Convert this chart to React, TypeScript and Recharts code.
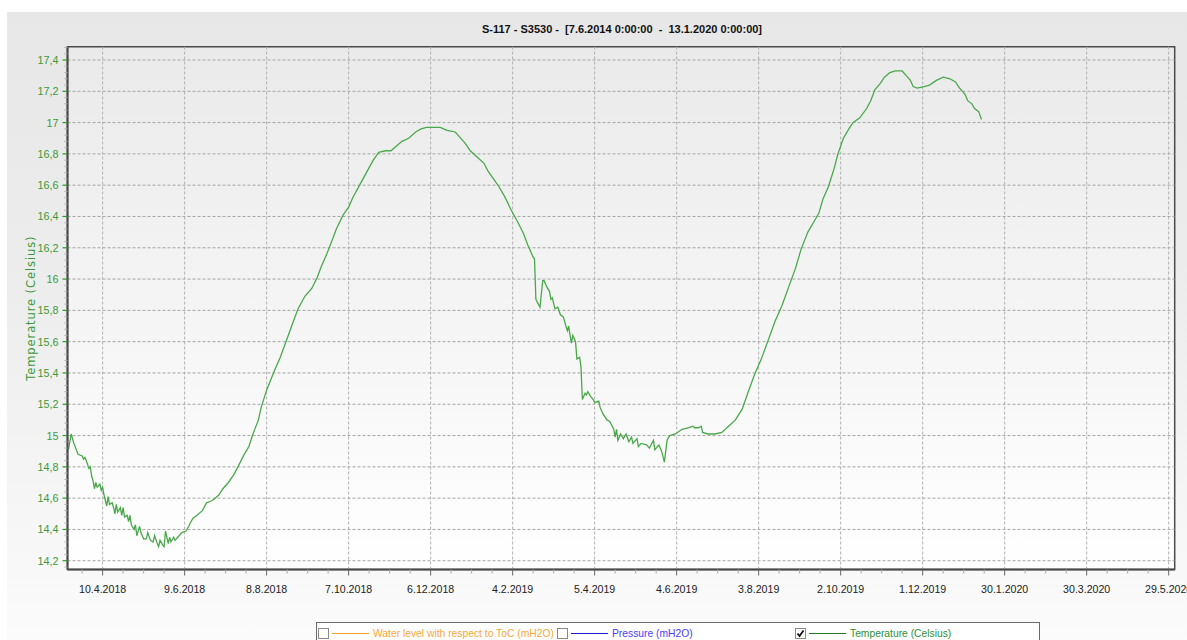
import React from 'react';
import { LineChart, Line, XAxis, YAxis, CartesianGrid, ReferenceLine, ReferenceArea, Label } from 'recharts';

// Days counted from 10.4.2018
const startDate = '2018-04-10';
const dayOffsets = [
  -25, -23, -21, -18, -15, -14, -13, -12, -10, -9, -8, -7, -6, -5, -4, -2, -1, 0, 1, 3, 4, 5, 7, 8, 9, 10, 11, 13, 14, 15, 16, 18, 19, 20, 21, 23, 24, 25, 27, 28, 30, 32, 33, 35, 37, 38, 40, 41, 42, 44, 45, 46, 48, 49, 50, 52, 53, 55, 58, 61, 63, 64, 66, 69, 73, 76, 79, 81, 85, 88, 92, 96, 99, 103, 107, 110, 114, 116, 120, 125, 130, 135, 140, 143, 148, 153, 157, 160, 164, 168, 171, 176, 180, 183, 188, 193, 198, 202, 207, 211, 215, 219, 224, 229, 233, 237, 247, 252, 258, 261, 265, 269, 274, 279, 282, 286, 290, 294, 299, 304, 308, 311, 315, 316, 317, 320, 322, 323, 325, 327, 328, 329, 331, 333, 335, 337, 338, 340, 341, 342, 343, 344, 346, 347, 349, 350, 351, 353, 354, 355, 357, 359, 360, 363, 364, 366, 369, 371, 374, 375, 376, 377, 379, 381, 383, 385, 387, 388, 391, 392, 394, 398, 400, 403, 404, 407, 409, 411, 413, 415, 419, 424, 429, 432, 433, 436, 438, 439, 443, 448, 453, 458, 463, 468, 472, 477, 482, 487, 492, 497, 502, 507, 511, 516, 520, 524, 527, 531, 535, 538, 542, 546, 549, 554, 559, 562, 565, 569, 572, 576, 580, 585, 588, 591, 593, 596, 601, 605, 610, 615, 620, 624, 627, 631, 633, 636, 638, 641, 643,
];
const temperature = [
  14.91, 15.01, 14.95, 14.88, 14.87, 14.85, 14.86, 14.84, 14.79, 14.8, 14.74, 14.71, 14.66, 14.7, 14.67, 14.69, 14.65, 14.67, 14.62, 14.55, 14.61, 14.56, 14.57, 14.54, 14.5, 14.56, 14.51, 14.54, 14.49, 14.54, 14.48, 14.49, 14.45, 14.49, 14.43, 14.4, 14.43, 14.36, 14.42, 14.38, 14.34, 14.34, 14.38, 14.33, 14.32, 14.36, 14.31, 14.29, 14.33, 14.3, 14.29, 14.39, 14.31, 14.35, 14.32, 14.35, 14.33, 14.35, 14.38, 14.39, 14.42, 14.44, 14.47, 14.49, 14.52, 14.57, 14.58, 14.59, 14.62, 14.66, 14.7, 14.75, 14.8, 14.87, 14.93, 15.01, 15.1, 15.18, 15.29, 15.4, 15.5, 15.62, 15.74, 15.81, 15.89, 15.94, 16.01, 16.08, 16.16, 16.25, 16.32, 16.41, 16.46, 16.52, 16.6, 16.68, 16.76, 16.81, 16.82, 16.82, 16.85, 16.88, 16.9, 16.94, 16.96, 16.97, 16.97, 16.95, 16.94, 16.91, 16.87, 16.82, 16.78, 16.74, 16.69, 16.64, 16.59, 16.53, 16.44, 16.36, 16.29, 16.22, 16.14, 16.13, 15.87, 15.82, 15.99, 15.99, 15.95, 15.92, 15.87, 15.88, 15.81, 15.82, 15.77, 15.76, 15.73, 15.67, 15.7, 15.64, 15.59, 15.64, 15.6, 15.49, 15.5, 15.44, 15.23, 15.27, 15.26, 15.28, 15.25, 15.23, 15.21, 15.22, 15.18, 15.14, 15.1, 15.09, 15.04, 14.99, 15.04, 14.97, 15.01, 14.98, 15.01, 14.96, 14.99, 14.95, 14.98, 14.93, 14.95, 14.94, 14.92, 14.97, 14.91, 14.94, 14.9, 14.83, 14.97, 15.0, 15.01, 15.04, 15.05, 15.06, 15.05, 15.05, 15.06, 15.02, 15.01, 15.01, 15.02, 15.06, 15.1, 15.17, 15.27, 15.39, 15.49, 15.61, 15.73, 15.83, 15.95, 16.07, 16.19, 16.3, 16.36, 16.42, 16.51, 16.59, 16.7, 16.8, 16.9, 16.96, 17.0, 17.03, 17.09, 17.14, 17.21, 17.25, 17.29, 17.32, 17.33, 17.33, 17.3, 17.27, 17.23, 17.22, 17.23, 17.24, 17.27, 17.29, 17.28, 17.26, 17.22, 17.18, 17.14, 17.12, 17.09, 17.07, 17.02,
];

const xTickDays = [0, 60, 120, 180, 240, 300, 360, 420, 480, 540, 600, 660, 720, 780];
const xTickLabels = ['10.4.2018', '9.6.2018', '8.8.2018', '7.10.2018', '6.12.2018', '4.2.2019', '5.4.2019', '4.6.2019', '3.8.2019', '2.10.2019', '1.12.2019', '30.1.2020', '30.3.2020', '29.5.2020'];
const yTickValues = [14.2, 14.4, 14.6, 14.8, 15, 15.2, 15.4, 15.6, 15.8, 16, 16.2, 16.4, 16.6, 16.8, 17, 17.2, 17.4];
const yTickLabels = ['14,2', '14,4', '14,6', '14,8', '15', '15,2', '15,4', '15,6', '15,8', '16', '16,2', '16,4', '16,6', '16,8', '17', '17,2', '17,4'];

const titleText = 'S-117 - S3530 -  [7.6.2014 0:00:00  -  13.1.2020 0:00:00]';
const legendItems = [
  { name: 'Water level with respect to ToC (mH2O)', line: '#f5a623', text: '#f7a838', checked: false },
  { name: 'Pressure (mH2O)', line: '#1a1acc', text: '#4b3cff', checked: false },
  { name: 'Temperature (Celsius)', line: '#237a23', text: '#2f8f2f', checked: true },
];

const X_DOMAIN = [-25.7, 784.4];
const Y_DOMAIN = [14.144, 17.485];

const data = dayOffsets.map((d, i) => ({ day: d, temp: temperature[i] }));

// minor tick positions (subdivisions of the major ticks)
const xMinorTicks: number[] = [];
for (let i = -1; i < xTickDays.length; i++) {
  const base = i < 0 ? xTickDays[0] - 60 : xTickDays[i];
  for (let k = 0; k < 4; k++) {
    const v = base + k * 15;
    if (v >= X_DOMAIN[0] && v <= X_DOMAIN[1]) xMinorTicks.push(v);
  }
}
const yMinorTicks: number[] = [];
for (let i = 0; i < yTickValues.length; i++) {
  for (let k = 0; k < 5; k++) {
    const v = Math.round((yTickValues[i] + k * 0.04) * 1000) / 1000;
    if (v <= Y_DOMAIN[1]) yMinorTicks.push(v);
  }
}
const yMinorAll = [Math.round((yTickValues[0] - 0.04) * 1000) / 1000, ...yMinorTicks].filter(v => v >= Y_DOMAIN[0]);

const FONT = "'Liberation Sans', Arial, sans-serif";

const XTick = (props: any) => {
  const { x, y, payload } = props;
  const idx = xTickDays.indexOf(payload.value);
  if (idx >= 0) {
    return (
      <g>
        <line x1={x} x2={x} y1={y} y2={y + 6} stroke="#666" strokeWidth={1} />
        <text x={x} y={y + 23} textAnchor="middle" fill="#222" fontSize={10.6} fontFamily={FONT}>
          {xTickLabels[idx]}
        </text>
      </g>
    );
  }
  return <line x1={x} x2={x} y1={y} y2={y + 4} stroke="#aaa" strokeWidth={1} />;
};

const YTick = (props: any) => {
  const { x, y, payload } = props;
  const idx = yTickValues.findIndex(v => Math.abs(v - payload.value) < 1e-6);
  if (idx >= 0) {
    return (
      <g>
        <line x1={x - 5} x2={x} y1={y} y2={y} stroke="#2a9a2a" strokeWidth={1.2} />
        <text x={x - 9} y={y + 4} textAnchor="end" fill="#3a9a3a" fontSize={10.8} fontFamily={FONT}>
          {yTickLabels[idx]}
        </text>
      </g>
    );
  }
  return <line x1={x - 3} x2={x} y1={y} y2={y} stroke="#aaa" strokeWidth={1} />;
};

const YLabel = (props: any) => {
  const { viewBox } = props;
  const cx = viewBox.x + 24;
  const cy = viewBox.y + viewBox.height / 2;
  return (
    <text x={cx} y={cy} transform={`rotate(-90, ${cx}, ${cy})`} textAnchor="middle" dominantBaseline="central"
      fill="#3a9a3a" fontSize={11.5} letterSpacing={0.9} fontFamily="'DejaVu Sans', Verdana, sans-serif">
      Temperature (Celsius)
    </text>
  );
};

const CheckBox = ({ checked }: { checked: boolean }) => (
  <svg width={11} height={11} style={{ display: 'block' }}>
    <rect x={0.5} y={0.5} width={10} height={10} fill="#fff" stroke="#8a8a8a" />
    {checked && <path d="M2.5 5.5 L4.5 8 L8.5 2.5" fill="none" stroke="#111" strokeWidth={1.8} />}
  </svg>
);

export default function App() {
  const legendLefts = [318, 557, 795];
  return (
    <div style={{ position: 'absolute', left: 0, top: 0, width: 1187, height: 640, background: '#fff', overflow: 'hidden' }}>
      <div style={{ position: 'absolute', left: 7, top: 12, width: 1180, height: 628, background: 'linear-gradient(to bottom, #e7e7e7 0%, #ededed 45%, #fbfbfb 100%)' }} />
      <div style={{ position: 'absolute', left: 0, top: 23, width: 1244, textAlign: 'center', fontFamily: FONT, fontWeight: 'bold', fontSize: 11, color: '#111', whiteSpace: 'pre' }}>
        {titleText}
      </div>
      <div style={{ position: 'absolute', left: 0, top: 0 }}>
        <LineChart width={1187} height={640} data={data} margin={{ top: 46.7, right: 12.3, bottom: 40.5, left: 7.5 }}>
          <defs>
            <linearGradient id="plotBg" x1="0" y1="0" x2="0" y2="1">
              <stop offset="0%" stopColor="#eaeaea" />
              <stop offset="100%" stopColor="#ffffff" />
            </linearGradient>
          </defs>
          <CartesianGrid horizontal={false} vertical={false} fill="url(#plotBg)" />
          <XAxis dataKey="day" type="number" domain={X_DOMAIN} ticks={xMinorTicks} interval={0} allowDataOverflow
            tick={<XTick />} tickLine={false} tickSize={0} tickMargin={0} height={30}
            axisLine={{ stroke: '#4a4a4a', strokeWidth: 2 }} />
          <YAxis type="number" domain={Y_DOMAIN} ticks={yMinorAll} interval={0} allowDataOverflow
            tick={<YTick />} tickLine={false} tickSize={0} tickMargin={0} width={60}
            axisLine={{ stroke: '#4a4a4a', strokeWidth: 2 }}>
            <Label content={<YLabel />} />
          </YAxis>
          {yTickValues.map(v => (
            <ReferenceLine key={'h' + v} y={v} stroke="#a4a4a4" strokeDasharray="3 2" strokeWidth={1} />
          ))}
          {xTickDays.map(v => (
            <ReferenceLine key={'v' + v} x={v} stroke="#b0b0b0" strokeDasharray="3 2" strokeWidth={1} />
          ))}
          <ReferenceArea x1={X_DOMAIN[0]} x2={X_DOMAIN[1]} y1={Y_DOMAIN[0]} y2={Y_DOMAIN[1]} fill="none" fillOpacity={0} stroke="#4a4a4a" strokeWidth={1.5} />
          <Line type="linear" dataKey="temp" stroke="#4aa84a" strokeWidth={1.3} dot={false} isAnimationActive={false} />
        </LineChart>
      </div>
      <div style={{ position: 'absolute', left: 316, top: 622, width: 724, height: 24, background: '#fff', border: '1px solid #6a6a6a', boxSizing: 'border-box' }} />
      {legendItems.map((it, i) => (
        <div key={it.name} style={{ position: 'absolute', left: legendLefts[i], top: 627, display: 'flex', alignItems: 'center', height: 12, fontFamily: FONT, fontSize: 10.3, whiteSpace: 'nowrap' }}>
          <CheckBox checked={it.checked} />
          <svg width={44} height={11} style={{ display: 'block' }}>
            <line x1={3} x2={40} y1={5.5} y2={5.5} stroke={it.line} strokeWidth={1} />
          </svg>
          <span style={{ color: it.text }}>{it.name}</span>
        </div>
      ))}
    </div>
  );
}
